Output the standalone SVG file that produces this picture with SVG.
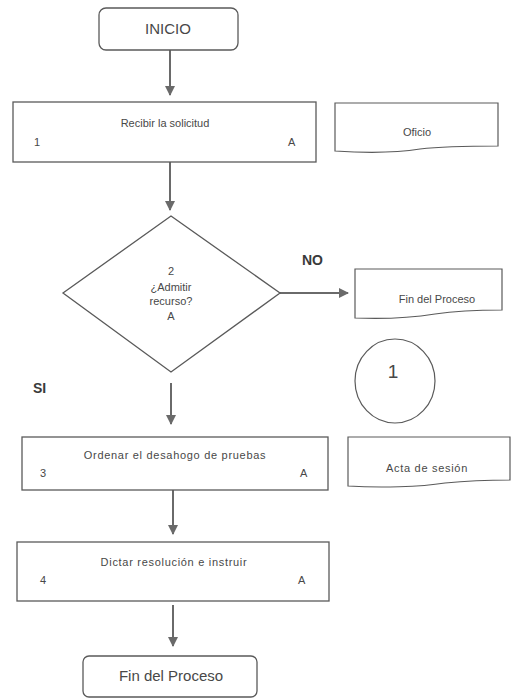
<svg xmlns="http://www.w3.org/2000/svg" width="522" height="698" viewBox="0 0 522 698">
<defs>
<marker id="ah" markerWidth="10" markerHeight="10" refX="9" refY="5" orient="auto" markerUnits="userSpaceOnUse">
<path d="M0,0 L10,5 L0,10 Z" fill="#6a6a6a"/>
</marker>
</defs>
<style>
.box{fill:#fff;stroke:#5a5a5a;stroke-width:1.3}
.doc{fill:#fff;stroke:#5a5a5a;stroke-width:1.2}
.t{font-family:"Liberation Sans",Arial,sans-serif;fill:#484848;font-size:11px}
.c{text-anchor:middle}
.w{letter-spacing:0.7px}
.big{font-size:15px}
.b{font-weight:bold;font-size:14px;fill:#3a3a3a}
.conn{stroke:#6a6a6a;stroke-width:2;fill:none;marker-end:url(#ah)}
</style>
<rect width="522" height="698" fill="#fff"/>
<g id="connectors">
<line class="conn" x1="170" y1="50" x2="170" y2="95"/>
<line class="conn" x1="170" y1="162" x2="170" y2="210"/>
<line class="conn" x1="280" y1="293" x2="348" y2="293"/>
<line class="conn" x1="171" y1="383" x2="171" y2="424"/>
<line class="conn" x1="173" y1="490" x2="173" y2="534"/>
<line class="conn" x1="173" y1="605" x2="173" y2="646"/>
</g>
<g id="inicio">
<rect class="box" x="99" y="8" width="139" height="42" rx="7"/>
<text class="t c big" x="168" y="34">INICIO</text>
</g>
<g id="paso1">
<rect class="box" x="13" y="102" width="303" height="60"/>
<text class="t c" x="165" y="127">Recibir la solicitud</text>
<text class="t" x="34" y="146">1</text>
<text class="t" x="288" y="146">A</text>
</g>
<g id="oficio">
<path class="doc" d="M335,103 H498 V146 C470,146 445,146 420,149 C395,153 365,153 335,151 Z"/>
<text class="t c" x="417" y="136">Oficio</text>
</g>
<g id="decision">
<path class="box" d="M171,216 L280,293 L171,372 L63,293 Z"/>
<text class="t c" x="171" y="275">2</text>
<text class="t c" x="171" y="291">¿Admitir</text>
<text class="t c" x="171" y="305">recurso?</text>
<text class="t c" x="171" y="320">A</text>
</g>
<text class="t b" x="302" y="265">NO</text>
<text class="t b" x="33" y="393">SI</text>
<g id="fin1">
<path class="doc" d="M355,269 H502 V310 C475,310 455,311 435,314 C410,318 380,319 355,318 Z"/>
<text class="t c" x="437" y="303">Fin del Proceso</text>
</g>
<g id="conector1">
<ellipse class="doc" cx="395" cy="381" rx="40" ry="42"/>
<text class="t c" x="393" y="378" style="font-size:19px">1</text>
</g>
<g id="paso3">
<rect class="box" x="22" y="437" width="306" height="53"/>
<text class="t c w" x="175" y="459">Ordenar el desahogo de pruebas</text>
<text class="t" x="40" y="477">3</text>
<text class="t" x="300" y="477">A</text>
</g>
<g id="acta">
<path class="doc" d="M348,437 H510 V480 C485,480 465,481 445,483 C420,487 380,488 348,486 Z"/>
<text class="t c w" x="427" y="472">Acta de sesión</text>
</g>
<g id="paso4">
<rect class="box" x="17" y="542" width="312" height="59"/>
<text class="t c w" x="174" y="566">Dictar resolución e instruir</text>
<text class="t" x="40" y="584">4</text>
<text class="t" x="298" y="584">A</text>
</g>
<g id="fin2">
<rect class="box" x="83" y="656" width="174" height="41" rx="6"/>
<text class="t c big" x="171" y="681">Fin del Proceso</text>
</g>
</svg>
